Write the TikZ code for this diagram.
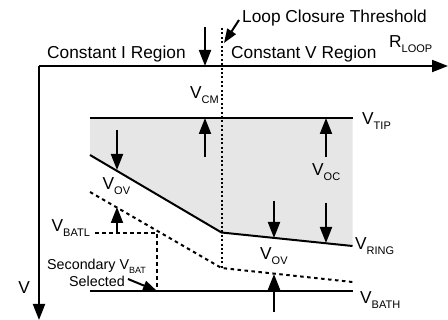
\documentclass[tikz,border=0pt]{standalone}
\usepackage{fontspec}
\setmainfont{Liberation Sans}
\usetikzlibrary{arrows.meta}
\newcommand\lsub[1]{\raisebox{-5pt}{\fontsize{11}{11}\selectfont #1}}
\newcommand\ssub[1]{\raisebox{-4pt}{\fontsize{9}{9}\selectfont #1}}
\definecolor{graybg}{RGB}{230,230,230}
\tikzset{
  lbl/.style={inner sep=0pt, anchor=base west, font=\fontsize{17.3}{20}\selectfont},
  smalllbl/.style={inner sep=0pt, anchor=base west, font=\fontsize{14.3}{16.5}\selectfont},
  solidline/.style={line width=2pt},
  dotline/.style={line width=2pt, dash pattern=on 2pt off 2.4pt},
  dashline/.style={line width=2pt, dash pattern=on 3.5pt off 3.5pt},
  arr/.style={line width=2pt, -{Triangle[length=16pt,width=12pt]}},
  sarr/.style={line width=2pt, -{Triangle[length=14pt,width=10pt]}},
}
\begin{document}
\begin{tikzpicture}[x=1pt,y=-1pt]
\useasboundingbox (0,0) rectangle (448,320);
% key points
\coordinate (O) at (39,66);
\coordinate (Xend) at (448,66);
\coordinate (Yend) at (39,320);
\coordinate (T1) at (221.5,28);
\coordinate (T2) at (221.5,268);
\coordinate (tipL) at (90,118);
\coordinate (tipR) at (352.5,118);
\coordinate (rL) at (90,155);
\coordinate (rM) at (221.5,232.5);
\coordinate (rR) at (352.5,246);
\coordinate (sL) at (90,192);
\coordinate (sM) at (221.5,268);
\coordinate (sR) at (352.5,282);
\coordinate (bL) at (90,291.5);
\coordinate (bR) at (352.5,291.5);
\coordinate (blL) at (95,233.3);
\coordinate (blC) at (157,233.3);
\coordinate (blB) at (157,291.5);
% shaded region
\fill[graybg] (tipL) -- (tipR) -- (rR) -- (rM) -- (rL) -- cycle;
% axes
\draw[arr] (O) -- (Xend);
\draw[arr] (O) -- (Yend);
% threshold
\draw[dotline] (T1) -- (T2);
% curves
\draw[solidline] (tipL) -- (tipR);
\draw[solidline] (rL) -- (rM) -- (rR);
\draw[dashline] (sL) -- (sM) -- (sR);
\draw[solidline] (bL) -- (bR);
\draw[dashline] (blL) -- (blC) -- (blB);
% arrows
\coordinate (a1s) at (205,27);   \coordinate (a1e) at (205,66);
\coordinate (a2s) at (205,157);  \coordinate (a2e) at (205,118);
\coordinate (a3s) at (117,130);  \coordinate (a3e) at (117,170);
\coordinate (a4s) at (117,233);  \coordinate (a4e) at (117,207);
\coordinate (a5s) at (326,157);  \coordinate (a5e) at (326,118);
\coordinate (a6s) at (326,203);  \coordinate (a6e) at (326,243);
\coordinate (a7s) at (274,201);  \coordinate (a7e) at (274,238);
\coordinate (a8s) at (274,312);  \coordinate (a8e) at (274,274);
\coordinate (a9s) at (239,20);   \coordinate (a9e) at (224,43);
\coordinate (a10s) at (128,279); \coordinate (a10e) at (157,291);
\draw[arr] (a1s) -- (a1e);
\draw[arr] (a2s) -- (a2e);
\draw[arr] (a3s) -- (a3e);
\draw[arr] (a4s) -- (a4e);
\draw[arr] (a5s) -- (a5e);
\draw[arr] (a6s) -- (a6e);
\draw[arr] (a7s) -- (a7e);
\draw[arr] (a8s) -- (a8e);
\draw[sarr] (a9s) -- (a9e);
\draw[sarr] (a10s) -- (a10e);
% labels
\node[lbl] (ci) at (47,59) {Constant I Region};
\node[lbl] (cv) at (231,59) {Constant V Region};
\node[lbl] (rloop) at (389,48) {R\lsub{LOOP}};
\node[lbl] (lct) at (242,23) {Loop Closure Threshold};
\node[lbl] (vcm) at (190,99) {V\lsub{CM}};
\node[lbl] (vtip) at (362,125) {V\lsub{TIP}};
\node[lbl] (voc) at (312,176) {V\lsub{OC}};
\node[lbl] (vring) at (355,249.5) {V\lsub{RING}};
\node[lbl] (vovr) at (260,260) {V\lsub{OV}};
\node[lbl] (vbath) at (360,303.5) {V\lsub{BATH}};
\node[lbl] (vovl) at (102.5,190) {V\lsub{OV}};
\node[lbl] (vbatl) at (51.5,231.7) {V\lsub{BATL}};
\node[smalllbl] (sec) at (47,270) {Secondary V\ssub{BAT}};
\node[smalllbl] (sel) at (69,286.5) {Selected};
\node[lbl] (vax) at (18.3,293.3) {V};
\end{tikzpicture}
\end{document}
